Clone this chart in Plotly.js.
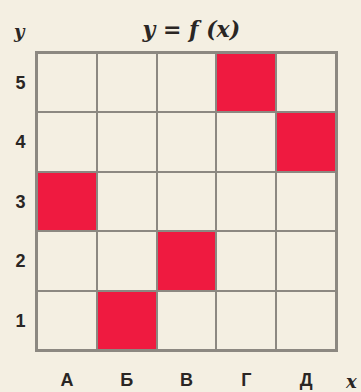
<!DOCTYPE html>
<html>
<head>
<meta charset="utf-8">
<script src="https://cdn.plot.ly/plotly-3.0.1.min.js"></script>
<style>html,body{margin:0;padding:0;background:#f4efe2;}</style>
</head>
<body>
<div id="chart" style="width:361px;height:392px;"></div>
<script>
const categories = ['А', 'Б', 'В', 'Г', 'Д'];
const rowLabels = [1, 2, 3, 4, 5];
const values = [3, 1, 2, 5, 4];

const z = rowLabels.map(r => categories.map((c, i) => values[i] === r ? 1 : 0));

const cream = '#f4efe2';
const red = '#ef1a40';
const gridGray = '#8c8881';

const trace = {
  type: 'heatmap',
  x: categories,
  y: rowLabels,
  z: z,
  colorscale: [[0, cream], [1, red]],
  showscale: false,
  xgap: 2,
  ygap: 2,
  hoverinfo: 'skip'
};

const layout = {
  width: 361,
  height: 392,
  margin: {l: 37, r: 25, t: 53, b: 42},
  paper_bgcolor: cream,
  plot_bgcolor: gridGray,
  showlegend: false,
  title: {
    text: 'y = f (x)',
    font: {family: 'DejaVu Serif', size: 22, color: '#2a2624', style: 'italic', weight: 'bold'},
    x: 0.53, xanchor: 'center',
    y: 0.925, yanchor: 'middle'
  },
  xaxis: {
    type: 'category',
    showgrid: false,
    zeroline: false,
    showline: true,
    mirror: true,
    linecolor: gridGray,
    linewidth: 2,
    ticks: 'outside',
    ticklen: 12,
    tickcolor: 'rgba(0,0,0,0)',
    tickfont: {family: 'Liberation Sans', size: 18, color: '#2a2624', weight: 'bold'}
  },
  yaxis: {
    type: 'linear',
    tickvals: rowLabels,
    ticktext: rowLabels.map(String),
    showgrid: false,
    zeroline: false,
    showline: true,
    mirror: true,
    linecolor: gridGray,
    linewidth: 2,
    ticks: 'outside',
    ticklen: 6,
    tickcolor: 'rgba(0,0,0,0)',
    tickfont: {family: 'Liberation Sans', size: 18, color: '#2a2624', weight: 'bold'}
  },
  annotations: [
    {text: 'y', xref: 'paper', yref: 'paper', x: -0.06, y: 1.03, xanchor: 'center', yanchor: 'bottom', showarrow: false,
     font: {family: 'DejaVu Serif', size: 18, color: '#2a2624', style: 'italic', weight: 'bold'}},
    {text: 'x', xref: 'paper', yref: 'paper', x: 1.05, y: -0.065, xanchor: 'center', yanchor: 'top', showarrow: false,
     font: {family: 'DejaVu Serif', size: 18, color: '#2a2624', style: 'italic', weight: 'bold'}}
  ]
};

Plotly.newPlot('chart', [trace], layout, {displayModeBar: false, staticPlot: true});
</script>
</body>
</html>
